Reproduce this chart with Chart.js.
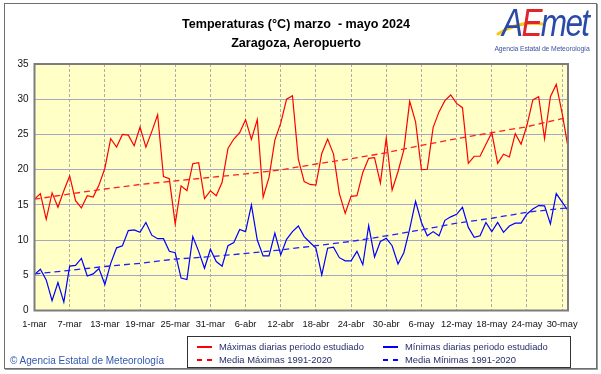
<!DOCTYPE html>
<html><head><meta charset="utf-8">
<script src="https://cdn.jsdelivr.net/npm/chart.js@4/dist/chart.umd.min.js"></script>
<style>
body{margin:0;background:#fff;}
#wrap{position:relative;width:601px;height:374px;overflow:hidden;font-family:"Liberation Sans",Arial,sans-serif;}
#frame{position:absolute;left:4px;top:3px;width:591px;height:364px;border:1px solid #6e6e6e;box-shadow:1px 1px 0 #9a9a9a;}
canvas{position:absolute;left:0;top:0;}
#title{position:absolute;left:0;width:592px;top:15px;text-align:center;font-weight:bold;font-size:12.6px;line-height:19px;color:#000;}
#logo{position:absolute;left:492px;top:2px;width:102px;height:52px;}
#logoTxt{position:absolute;left:502px;top:3px;font-family:"Liberation Sans",sans-serif;font-style:italic;font-size:38px;letter-spacing:-2px;line-height:40px;transform:scaleX(0.83);transform-origin:0 0;}
#logoSub{position:absolute;left:489px;top:45px;width:106px;text-align:center;font-size:6.8px;color:#3b55a0;letter-spacing:-0.1px;}
#copy{position:absolute;left:10px;top:355px;font-size:10px;color:#3358b0;}
#legend{position:absolute;left:187px;top:336px;width:382px;height:30px;border:1px solid #333;background:#fff;font-size:9.4px;color:#27306a;}
.li{position:absolute;height:13px;line-height:13px;white-space:nowrap;}
.ln{position:absolute;top:6px;width:15px;height:1.5px;}
.tx{position:absolute;left:22px;top:0;}
.dr{background:repeating-linear-gradient(90deg,#f00 0 5px,transparent 5px 10px);}
.db{background:repeating-linear-gradient(90deg,#00f 0 5px,transparent 5px 10px);}
</style></head>
<body>
<div id="wrap">
  <div id="frame"></div>
  <canvas id="c" width="601" height="374"></canvas>
  <div id="title">Temperaturas (°C) marzo &nbsp;- mayo 2024<br>Zaragoza, Aeropuerto</div>
  <svg id="logo" viewBox="0 0 102 52"><path d="M6 32 C 22 22, 38 20, 50 22" stroke="#f3c81a" stroke-width="3.2" fill="none" stroke-linecap="round"/></svg>
  <div id="logoTxt"><span style="color:#2a4aa8">A</span><span style="color:#e0262a">E</span><span style="color:#2a4aa8">met</span></div>
  <div id="logoSub">Agencia Estatal de Meteorología</div>
  <div id="copy">© Agencia Estatal de Meteorología</div>
  <div id="legend">
    <div class="li" style="left:9px;top:3px"><div class="ln" style="background:#f00"></div><div class="tx">Máximas diarias periodo estudiado</div></div>
    <div class="li" style="left:195px;top:3px"><div class="ln" style="background:#00f"></div><div class="tx">Mínimas diarias periodo estudiado</div></div>
    <div class="li" style="left:9px;top:16px"><div class="ln dr"></div><div class="tx">Media Máximas 1991-2020</div></div>
    <div class="li" style="left:195px;top:16px"><div class="ln db"></div><div class="tx">Media Mínimas 1991-2020</div></div>
  </div>
</div>
<script>
// x tick labels every 6 days starting 1-mar (day index 0 .. 91 = 31-may)
const tickLabels = ['1-mar','7-mar','13-mar','19-mar','25-mar','31-mar','6-abr','12-abr','18-abr','24-abr','30-abr','6-may','12-may','18-may','24-may','30-may'];
// daily maxima, 1-mar .. 31-may
const tMax = [15.8,16.6,12.95,16.7,14.66,17.0,19.1,15.6,14.56,16.3,16.1,17.8,20.2,24.4,23.2,25.0,24.9,23.4,26.05,23.2,25.4,27.8,19.0,18.7,12.3,17.7,17.0,20.85,21.0,15.9,17.0,
  16.3,18.2,23.0,24.35,25.25,27.1,24.3,27.1,16.1,18.9,24.2,26.6,30.0,30.5,21.5,18.3,17.9,17.8,22.3,24.35,22.2,16.6,13.8,16.2,16.3,19.6,21.6,21.7,18.1,24.5,
  17.1,19.7,22.8,29.7,26.8,20.0,20.05,26.0,28.2,29.8,30.6,29.4,28.8,20.9,21.9,21.9,23.6,25.25,20.9,22.2,21.8,25.1,23.6,26.3,29.9,30.35,24.4,30.35,32.1,28.0,23.2];
// daily minima
const tMin = [5.1,5.86,4.35,1.4,3.97,1.2,6.3,6.4,7.4,4.9,5.2,5.95,3.7,6.7,8.9,9.2,11.35,11.45,11.1,12.5,10.7,10.2,10.2,8.4,8.2,4.6,4.4,10.5,8.4,6.0,8.7,
  6.95,6.3,9.2,9.65,11.5,11.2,15.0,10.0,7.75,7.75,11.0,7.9,10.1,11.2,12.0,10.5,9.65,8.85,5.06,8.85,9.0,7.5,7.05,7.05,8.4,6.5,12.05,7.6,9.8,10.25,
  9.2,6.6,8.2,11.6,15.5,12.5,10.6,11.2,10.6,12.8,13.3,13.65,14.65,11.8,10.4,10.6,12.5,11.2,12.5,11.1,12.0,12.4,12.4,13.7,14.4,14.9,14.85,12.3,16.6,15.4,14.2];
// climatological normals read at these day indices
const normIdx = [0,6,12,18,24,30,36,42,48,54,60,66,72,78,84,90,91];
const normMax = [15.8,16.55,17.25,17.9,18.4,18.9,19.4,19.95,20.8,21.55,22.4,23.45,24.4,25.25,26.1,27.25,27.4];
const normMin = [5.2,5.7,6.25,6.7,7.3,7.65,8.1,8.6,9.2,9.8,10.6,11.45,12.4,13.1,13.95,14.5,14.55];

const pts = a => a.map((v,i)=>({x:i,y:v}));
const npts = a => a.map((v,k)=>({x:normIdx[k],y:v}));

const bgPlugin = {
  id:'bg',
  beforeDraw(c){const {ctx,chartArea:a}=c;ctx.save();ctx.fillStyle='#ffffc6';ctx.fillRect(a.left,a.top,a.width,a.height);ctx.restore();},
  afterDraw(c){const {ctx,chartArea:a}=c;ctx.save();ctx.strokeStyle='#7c7c7c';ctx.lineWidth=2;ctx.strokeRect(a.left,a.top,a.width,a.height);ctx.restore();}
};

new Chart(document.getElementById('c'),{
  type:'line',
  data:{datasets:[
    {data:npts(normMax),borderColor:'#ff2020',borderWidth:1.3,borderDash:[6,4]},
    {data:npts(normMin),borderColor:'#2020ff',borderWidth:1.3,borderDash:[6,4]},
    {data:pts(tMax),borderColor:'#ff0000',borderWidth:1.2},
    {data:pts(tMin),borderColor:'#0000ff',borderWidth:1.2}
  ]},
  options:{
    responsive:false,animation:false,
    layout:{padding:{left:0,top:64,right:33,bottom:0}},
    plugins:{legend:{display:false},tooltip:{enabled:false},title:{display:false}},
    elements:{point:{radius:0},line:{tension:0}},
    scales:{
      x:{type:'linear',min:0,max:91,
        ticks:{stepSize:6,includeBounds:false,autoSkip:false,maxRotation:0,padding:8,
          font:{size:9.3,family:'"Liberation Sans", Arial'},color:'#111',
          callback:v=>tickLabels[Math.round(v/6)]},
        grid:{color:'#acacac',drawTicks:false,lineWidth:1},
        border:{display:false,dash:[3,2]},
        afterFit:s=>{s.height=374-310.5;}
      },
      y:{min:0,max:35,
        ticks:{stepSize:5,padding:6,font:{size:10,family:'"Liberation Sans", Arial'},color:'#111'},
        grid:{color:'#a6a6c4',drawTicks:false,lineWidth:1},
        border:{display:false},
        afterFit:s=>{s.width=34.5;}
      }
    }
  },
  plugins:[bgPlugin]
});
</script>
</body></html>
